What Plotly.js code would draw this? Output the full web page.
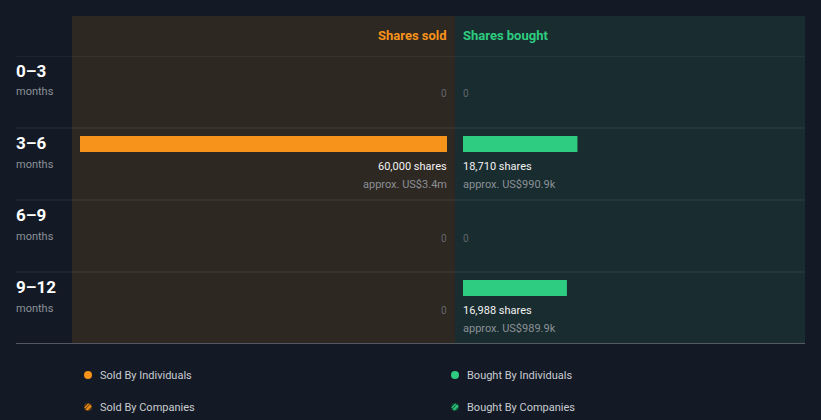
<!DOCTYPE html>
<html>
<head>
<meta charset="utf-8">
<script src="https://cdn.plot.ly/plotly-3.0.1.min.js"></script>
<style>
html,body{margin:0;padding:0;background:#141a25;}
#chart{width:821px;height:420px;}
</style>
</head>
<body>
<div id="chart"></div>
<script>
// ---- data ----
const periods = ['0–3', '3–6', '6–9', '9–12'];
const periodUnit = 'months';
const soldShares = [0, 60000, 0, 0];
const boughtShares = [0, 18710, 0, 16988];
const soldValue = ['', 'approx. US$3.4m', '', ''];
const boughtValue = ['', 'approx. US$990.9k', '', 'approx. US$989.9k'];
const legendLabels = ['Sold By Individuals', 'Bought By Individuals', 'Sold By Companies', 'Bought By Companies'];

// ---- style ----
const W = 821, H = 420;
const ORANGE = '#f7931a', GREEN = '#2ecc80';
const BG = '#141a25', SOLD_BG = '#2e2822', BOUGHT_BG = '#192c2f';
const FONT = 'Roboto, "Open Sans", sans-serif';
const px = v => v / W;
const py = v => 1 - v / H;
const rowIdx = periods.map((_, i) => i);
const maxShares = 60000;

const traces = [
  {type: 'bar', orientation: 'h', x: soldShares, y: rowIdx, xaxis: 'x', yaxis: 'y',
   marker: {color: ORANGE}, width: 16/72, offset: -0.5 + 8/72, hoverinfo: 'skip', showlegend: false},
  {type: 'bar', orientation: 'h', x: boughtShares, y: rowIdx, xaxis: 'x2', yaxis: 'y',
   marker: {color: GREEN}, width: 16/72, offset: -0.5 + 8/72, hoverinfo: 'skip', showlegend: false}
];

const fmt = n => n.toLocaleString('en-US');
const ann = [];
const A = o => Object.assign({showarrow: false, borderpad: 0, borderwidth: 0, yanchor: 'middle'}, o);
// headers
ann.push(A({xref: 'x', yref: 'paper', x: 0, y: py(35), xanchor: 'right',
  text: '<b>Shares sold</b>', font: {family: FONT, size: 13, color: ORANGE}}));
ann.push(A({xref: 'x2', yref: 'paper', x: 0, y: py(35), xanchor: 'left',
  text: '<b>Shares bought</b>', font: {family: FONT, size: 13, color: GREEN}}));

periods.forEach((p, i) => {
  ann.push(A({xref: 'paper', yref: 'y', x: px(16), y: i, yshift: 21, xanchor: 'left',
    text: '<b>' + p + '</b>', font: {family: FONT, size: 17, color: '#ffffff'}}));
  ann.push(A({xref: 'paper', yref: 'y', x: px(16), y: i, yshift: 0, xanchor: 'left',
    text: periodUnit, font: {family: FONT, size: 11, color: '#8b9097'}}));
  // sold side
  if (soldShares[i] > 0) {
    ann.push(A({xref: 'x', yref: 'y', x: 0, y: i, yshift: -2, xanchor: 'right',
      text: fmt(soldShares[i]) + ' shares', font: {family: FONT, size: 11, color: '#f2f2f2'}}));
    ann.push(A({xref: 'x', yref: 'y', x: 0, y: i, yshift: -20, xanchor: 'right',
      text: soldValue[i], font: {family: FONT, size: 11, color: '#8b9097'}}));
  } else {
    ann.push(A({xref: 'x', yref: 'y', x: 0, y: i, yshift: -2, xanchor: 'right',
      text: '0', font: {family: FONT, size: 10, color: '#62666c'}}));
  }
  // bought side
  if (boughtShares[i] > 0) {
    ann.push(A({xref: 'x2', yref: 'y', x: 0, y: i, yshift: -2, xanchor: 'left',
      text: fmt(boughtShares[i]) + ' shares', font: {family: FONT, size: 11, color: '#f2f2f2'}}));
    ann.push(A({xref: 'x2', yref: 'y', x: 0, y: i, yshift: -20, xanchor: 'left',
      text: boughtValue[i], font: {family: FONT, size: 11, color: '#8b9097'}}));
  } else {
    ann.push(A({xref: 'x2', yref: 'y', x: 0, y: i, yshift: -2, xanchor: 'left',
      text: '0', font: {family: FONT, size: 10, color: '#62666c'}}));
  }
});

// panels, rows, legend
const legPos = [[88, 375], [455, 375], [88, 407], [455, 407]];
const legCol = [ORANGE, GREEN, ORANGE, GREEN];
const stripeBg = ['', '', '#5a3a12', '#134a33'];
const shapes = [];
shapes.push({type: 'rect', xref: 'paper', yref: 'paper', x0: px(72), x1: px(455), y0: py(343), y1: py(16),
  fillcolor: SOLD_BG, line: {width: 0}, layer: 'below'});
shapes.push({type: 'rect', xref: 'paper', yref: 'paper', x0: px(455), x1: px(805), y0: py(343), y1: py(16),
  fillcolor: BOUGHT_BG, line: {width: 0}, layer: 'below'});
periods.forEach((_, i) => {
  shapes.push({type: 'line', xref: 'paper', yref: 'y', x0: px(16), x1: px(805), y0: i - 0.5, y1: i - 0.5,
    line: {color: 'rgba(255,255,255,0.1)', width: 1}});
});
shapes.push({type: 'line', xref: 'paper', yref: 'y', x0: px(16), x1: px(805), y0: periods.length - 0.5, y1: periods.length - 0.5,
  line: {color: 'rgba(255,255,255,0.55)', width: 1}});

legendLabels.forEach((l, k) => {
  const [cx, cy] = legPos[k];
  const r = 4;
  const striped = k >= 2;
  shapes.push({type: 'circle', xref: 'paper', yref: 'paper', x0: px(cx - r), x1: px(cx + r), y0: py(cy + r), y1: py(cy - r),
    fillcolor: striped ? stripeBg[k] : legCol[k], line: {width: 0}});
  if (striped) {
    [[-3.2, 0.8, 0.8, -3.2], [-2, 2.6, 2.6, -2], [-0.8, 3.2, 3.2, -0.8]].forEach(s => {
      shapes.push({type: 'line', xref: 'paper', yref: 'paper', x0: px(cx + s[0]), y0: py(cy + s[1]), x1: px(cx + s[2]), y1: py(cy + s[3]),
        line: {color: legCol[k], width: 1.2}});
    });
  }
  ann.push(A({xref: 'paper', yref: 'paper', x: px(cx + 12), y: py(cy), xanchor: 'left',
    text: l, font: {family: FONT, size: 11, color: '#c9ccd1'}}));
});

const layout = {
  width: W, height: H,
  margin: {l: 0, r: 0, t: 0, b: 0},
  paper_bgcolor: BG, plot_bgcolor: 'rgba(0,0,0,0)',
  showlegend: false,
  barmode: 'overlay',
  xaxis: {domain: [px(80), px(447)], range: [maxShares, 0], visible: false, fixedrange: true},
  xaxis2: {domain: [px(463), px(805)], range: [0, maxShares * (805 - 463) / (447 - 80)], visible: false, fixedrange: true},
  yaxis: {domain: [py(344), py(56)], range: [periods.length - 0.5, -0.5], visible: false, fixedrange: true},
  shapes: shapes,
  annotations: ann
};

Plotly.newPlot('chart', traces, layout, {displayModeBar: false, staticPlot: true});
</script>
</body>
</html>
